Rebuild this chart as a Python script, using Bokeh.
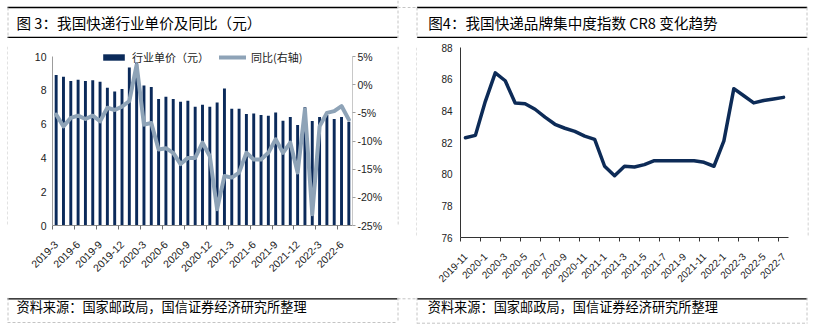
import math
from bokeh.plotting import figure
from bokeh.models import Range1d, LinearAxis, FixedTicker, Legend, LegendItem, PrintfTickFormatter
from bokeh.layouts import row, column
from bokeh.embed import file_html
from bokeh.resources import INLINE
from bokeh.core.properties import value

# ---------------- data: left chart (industry unit price & YoY) ----------------
price_months = [
    "2019-3", "2019-4", "2019-5", "2019-6", "2019-7", "2019-8", "2019-9", "2019-10", "2019-11", "2019-12",
    "2020-1", "2020-2", "2020-3", "2020-4", "2020-5", "2020-6", "2020-7", "2020-8", "2020-9", "2020-10",
    "2020-11", "2020-12", "2021-1", "2021-2", "2021-3", "2021-4", "2021-5", "2021-6", "2021-7", "2021-8",
    "2021-9", "2021-10", "2021-11", "2021-12", "2022-1", "2022-2", "2022-3", "2022-4", "2022-5", "2022-6",
    "2022-7",
]
price = [
    8.90, 8.80, 8.55, 8.62, 8.55, 8.60, 8.50, 8.15, 7.93, 8.07,
    9.35, 9.65, 8.29, 8.19, 7.48, 7.62, 7.48, 7.32, 7.38, 7.03,
    7.15, 7.03, 7.28, 8.11, 6.91, 6.91, 6.60, 6.63, 6.54, 6.50,
    6.69, 6.20, 6.42, 5.95, 6.99, 6.18, 6.42, 6.54, 6.30, 6.42,
    6.14,
]
price_yoy = [
    -5.3, -7.4, -5.9, -5.5, -6.1, -5.5, -6.5, -4.1, -4.5, -3.9,
    -2.9, 3.5, -7.1, -6.8, -11.5, -11.3, -12.1, -14.1, -13.0, -13.0,
    -10.3, -12.7, -22.1, -16.2, -16.5, -15.6, -12.1, -13.3, -13.3, -12.1,
    -9.7, -12.1, -10.3, -15.6, -4.4, -23.0, -7.4, -5.0, -4.7, -3.8,
    -6.2,
]
price_tick_labels = ["2019-3", "2019-6", "2019-9", "2019-12", "2020-3", "2020-6", "2020-9",
                     "2020-12", "2021-3", "2021-6", "2021-9", "2021-12", "2022-3", "2022-6"]
price_axis_ticks = [0, 2, 4, 6, 8, 10]
yoy_axis_ticks = [5, 0, -5, -10, -15, -20, -25]

# ---------------- data: right chart (CR8) ----------------
cr8_months = [
    "2019-11", "2019-12", "2020-1", "2020-2", "2020-3", "2020-4", "2020-5", "2020-6", "2020-7", "2020-8",
    "2020-9", "2020-10", "2020-11", "2020-12", "2021-1", "2021-2", "2021-3", "2021-4", "2021-5", "2021-6",
    "2021-7", "2021-8", "2021-9", "2021-10", "2021-11", "2021-12", "2022-1", "2022-2", "2022-3", "2022-4",
    "2022-5", "2022-6", "2022-7",
]
cr8 = [
    82.30, 82.45, 84.60, 86.40, 85.90, 84.50, 84.45, 84.10, 83.60, 83.15,
    82.90, 82.70, 82.40, 82.20, 80.50, 79.90, 80.50, 80.45, 80.60, 80.85,
    80.85, 80.85, 80.85, 80.85, 80.75, 80.50, 82.10, 85.40, 84.95, 84.50,
    84.65, 84.75, 84.85,
]
cr8_tick_labels = ["2019-11", "2020-1", "2020-3", "2020-5", "2020-7", "2020-9", "2020-11",
                   "2021-1", "2021-3", "2021-5", "2021-7", "2021-9", "2021-11", "2022-1",
                   "2022-3", "2022-5", "2022-7"]
cr8_axis_ticks = [76, 78, 80, 82, 84, 86, 88]

title_left = "图 3：我国快递行业单价及同比（元）"
title_right = "图4：我国快递品牌集中度指数 CR8 变化趋势"
source_text = "资料来源：国家邮政局，国信证券经济研究所整理"
legend_bar = "行业单价（元）"
legend_line = "同比(右轴)"

# ---------------- styles ----------------
NAVY = "#0B2A5A"
GREYBLUE = "#8EA3B7"
DASH = "#C4C4C4"
CJK = "Noto Sans CJK SC"
LAT = "Liberation Sans"


def blank(w, h):
    f = figure(width=w, height=h, x_range=Range1d(0, w), y_range=Range1d(h, 0),
               x_axis_location=None, y_axis_location=None,
               output_backend="svg", toolbar_location=None, min_border=0)
    f.grid.visible = False
    f.outline_line_color = None
    f.border_fill_color = "white"
    f.background_fill_color = "white"
    return f


def seg(f, xs, ys, dashed=False):
    if dashed:
        f.line(xs, ys, line_color=DASH, line_width=1, line_dash="3 2")
    else:
        f.line(xs, ys, line_color="black", line_width=1.3)


def text(f, x, y, s, size):
    f.text(x=[x], y=[y], text=[s], text_font=value(CJK), text_font_size=size,
           text_baseline="middle", text_align="left", text_color="black")


# ---------------- left panel decorations ----------------
tL = blank(407, 38)
seg(tL, [7, 397], [7, 7])
seg(tL, [7, 397], [37, 37])
seg(tL, [7.5, 7.5], [7, 38], dashed=True)
seg(tL, [397.5, 397.5], [0, 38], dashed=True)
seg(tL, [397, 407], [7, 7], dashed=True)
text(tL, 16, 22, title_left, "14.6px")

sL1 = blank(8, 259)
seg(sL1, [7.5, 7.5], [0, 259], dashed=True)
sL2 = blank(10, 259)
seg(sL2, [0.5, 0.5], [0, 259], dashed=True)

bL = blank(407, 35)
seg(bL, [7, 397], [1.3, 1.3])
seg(bL, [7.5, 7.5], [0, 25], dashed=True)
seg(bL, [397.5, 397.5], [0, 25], dashed=True)
seg(bL, [7, 397], [25, 25], dashed=True)
seg(bL, [397, 407], [1.3, 1.3], dashed=True)
text(bL, 16, 8.5, source_text, "13.2px")

# ---------------- left chart ----------------
# frame: 179 px tall; the 0..10 scale occupies the lower 169 px (room above for the legend)
L_FRAME_H = 179
L_SCALE_H = 169
xs = list(range(len(price_months)))
p_lo, p_hi = min(price_axis_ticks), max(price_axis_ticks)
q_lo, q_hi = min(yoy_axis_ticks), max(yoy_axis_ticks)
pL = figure(width=389, height=259, x_range=Range1d(-0.5, len(price_months) - 0.5),
            y_range=Range1d(p_lo, p_lo + (p_hi - p_lo) * L_FRAME_H / L_SCALE_H),
            x_axis_location=None, y_axis_location=None,
            output_backend="svg", toolbar_location=None,
            min_border_left=44, min_border_right=45, min_border_top=8, min_border_bottom=72)
pL.grid.visible = False
pL.outline_line_color = None
pL.extra_y_ranges = {"pct": Range1d(q_lo, q_lo + (q_hi - q_lo) * L_FRAME_H / L_SCALE_H)}

lab_idx = [price_months.index(m) for m in price_tick_labels]
xaL = LinearAxis(ticker=FixedTicker(ticks=lab_idx, minor_ticks=[i - 0.5 for i in lab_idx]),
                 major_label_overrides={i: m for i, m in zip(lab_idx, price_tick_labels)},
                 major_label_orientation=math.pi / 4,
                 major_tick_out=0, major_tick_in=0, minor_tick_out=4, minor_tick_in=0,
                 axis_line_color="#8C8C8C", minor_tick_line_color="#6E6E6E",
                 major_label_text_font=LAT, major_label_text_font_size="10.5px",
                 major_label_text_color="#222222", major_label_standoff=13)
pL.add_layout(xaL, "below")

yaL = LinearAxis(ticker=FixedTicker(ticks=price_axis_ticks, minor_ticks=[]), bounds=(p_lo, p_hi),
                 major_tick_out=0, major_tick_in=0, minor_tick_out=0, minor_tick_in=0,
                 axis_line_color="#9C9C9C",
                 major_label_text_font=LAT, major_label_text_font_size="10.5px",
                 major_label_text_color="#222222", major_label_standoff=6)
pL.add_layout(yaL, "left")

yaR = LinearAxis(y_range_name="pct", ticker=FixedTicker(ticks=yoy_axis_ticks, minor_ticks=[]),
                 bounds=(q_lo, q_hi),
                 formatter=PrintfTickFormatter(format="%d%%"),
                 major_tick_out=3, major_tick_in=0, minor_tick_out=0, minor_tick_in=0,
                 axis_line_color="#C8C8C8", major_tick_line_color="#A0A0A0",
                 major_label_text_font=LAT, major_label_text_font_size="10.5px",
                 major_label_text_color="#222222", major_label_standoff=2)
pL.add_layout(yaR, "right")

bars = pL.vbar(x=xs, top=price, width=0.4, fill_color=NAVY, line_color=None)
yline = pL.line(xs, price_yoy, y_range_name="pct", line_color=GREYBLUE, line_width=4,
                line_join="round", line_cap="round")

leg = Legend(items=[LegendItem(label=value(legend_bar), renderers=[bars]),
                    LegendItem(label=value(legend_line), renderers=[yline])],
             orientation="horizontal", location=(48, 160), padding=0, margin=0, spacing=10,
             glyph_width=27, glyph_height=8, label_standoff=5, label_height=12,
             label_text_font=CJK, label_text_font_size="11px", label_text_color="#222222",
             border_line_color=None, background_fill_alpha=0)
pL.add_layout(leg)

# ---------------- right panel decorations ----------------
tR = blank(408, 38)
seg(tR, [9.5, 399.7], [7, 7])
seg(tR, [9.5, 399.7], [37, 37])
seg(tR, [9.5, 9.5], [7, 38], dashed=True)
seg(tR, [399.5, 399.5], [7, 38], dashed=True)
seg(tR, [0, 9.5], [7, 7], dashed=True)
text(tR, 20.7, 22, title_right, "14.6px")

sR1 = blank(10, 259)
seg(sR1, [9.5, 9.5], [0, 259], dashed=True)
sR2 = blank(8, 259)
seg(sR2, [0.5, 0.5], [0, 259], dashed=True)

bR = blank(408, 35)
seg(bR, [9.5, 399.7], [1.3, 1.3])
seg(bR, [9.5, 9.5], [0, 26], dashed=True)
seg(bR, [399.5, 399.5], [0, 26], dashed=True)
seg(bR, [9.5, 399.7], [25.7, 25.7], dashed=True)
seg(bR, [0, 9.5], [1.3, 1.3], dashed=True)
text(bR, 20.2, 9.3, source_text, "13.2px")

# ---------------- right chart ----------------
xr = list(range(len(cr8_months)))
pR = figure(width=390, height=259, x_range=Range1d(-0.5, len(cr8_months) - 0.5),
            y_range=Range1d(min(cr8_axis_ticks), max(cr8_axis_ticks)),
            x_axis_location=None, y_axis_location=None,
            output_backend="svg", toolbar_location=None,
            min_border_left=43, min_border_right=19, min_border_top=9, min_border_bottom=60)
pR.grid.visible = False
pR.outline_line_color = None

lab_r = [cr8_months.index(m) for m in cr8_tick_labels]
xaR = LinearAxis(ticker=FixedTicker(ticks=lab_r, minor_ticks=[i - 0.5 for i in lab_r]),
                 major_label_overrides={i: m for i, m in zip(lab_r, cr8_tick_labels)},
                 major_label_orientation=math.pi / 4,
                 major_tick_out=0, major_tick_in=0, minor_tick_out=4, minor_tick_in=0,
                 axis_line_color="#333333", minor_tick_line_color="#333333",
                 major_label_text_font=LAT, major_label_text_font_size="10px",
                 major_label_text_color="#222222", major_label_standoff=13)
pR.add_layout(xaR, "below")

yaC = LinearAxis(ticker=FixedTicker(ticks=cr8_axis_ticks, minor_ticks=[]),
                 major_tick_out=0, major_tick_in=0, minor_tick_out=0, minor_tick_in=0,
                 axis_line_color="#333333",
                 major_label_text_font=LAT, major_label_text_font_size="10px",
                 major_label_text_color="#222222", major_label_standoff=8)
pR.add_layout(yaC, "left")

pR.line(xr, cr8, line_color="#0D2B57", line_width=3.5, line_join="round", line_cap="round")

left_panel = column(tL, row(sL1, pL, sL2), bL)
right_panel = column(tR, row(sR1, pR, sR2), bR)
layout = row(left_panel, right_panel)

open("out.html", "w").write(file_html(layout, INLINE))
